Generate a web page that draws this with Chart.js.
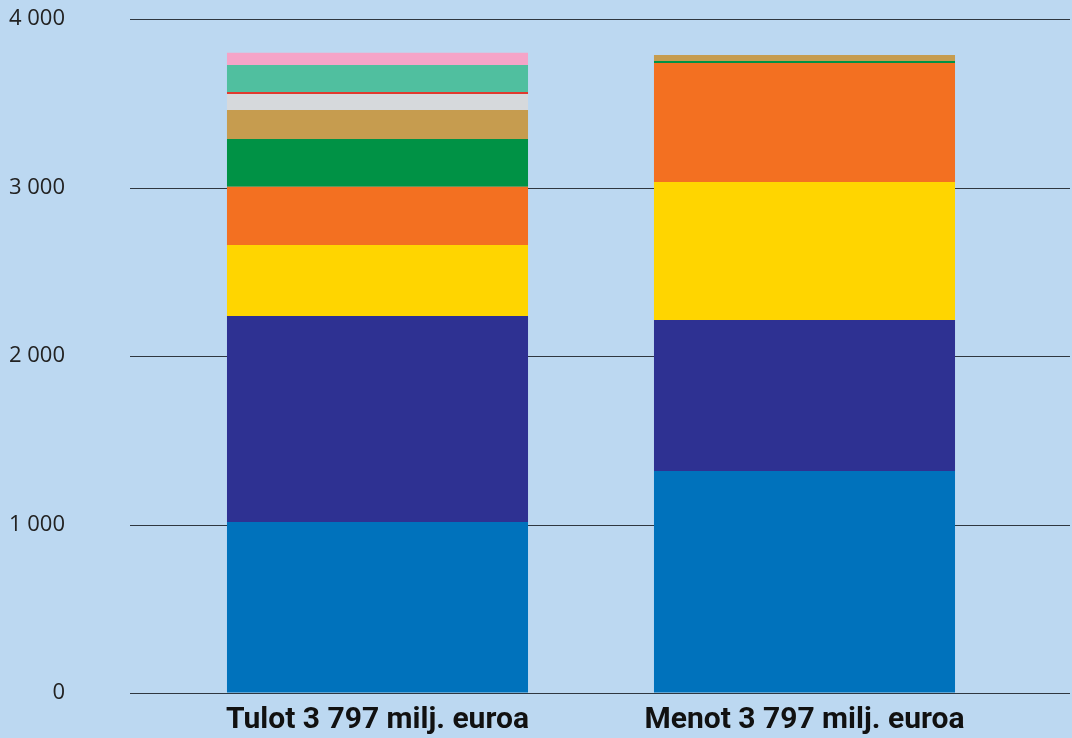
<!DOCTYPE html>
<html>
<head>
<meta charset="utf-8">
<script src="https://cdn.jsdelivr.net/npm/chart.js@4"></script>
<style>
html,body{margin:0;padding:0;background:#BCD8F1;}
#wrap{width:1072px;height:738px;position:relative;}
</style>
</head>
<body>
<div id="wrap"><canvas id="c" width="1072" height="738"></canvas></div>
<script>
const categories = ['Tulot 3 797 milj. euroa', 'Menot 3 797 milj. euroa'];
const yTickLabels = {0:'0',1000:'1 000',2000:'2 000',3000:'3 000',4000:'4 000'};
// series, bottom to top: [Tulot, Menot]
const seriesBlue   = [1015, 1318];
const seriesNavy   = [1222, 896];
const seriesYellow = [422, 819];
const seriesOrange = [346, 706];
const seriesGreen  = [283, 12];
const seriesTan    = [172, 36];
const seriesGray   = [95, 0];
const seriesRed    = [12, 0];
const seriesTeal   = [160, 0];
const seriesPink   = [72, 0];

const series = [
  [seriesBlue, '#0072BC'],
  [seriesNavy, '#2E3192'],
  [seriesYellow, '#FFD500'],
  [seriesOrange, '#F37021'],
  [seriesGreen, '#009245'],
  [seriesTan, '#C69C4F'],
  [seriesGray, '#D6D9DC'],
  [seriesRed, '#E03A2E'],
  [seriesTeal, '#50BF9F'],
  [seriesPink, '#F5A4C8'],
];

const gridPlugin = {
  id: 'extGrid',
  beforeDatasetsDraw(chart) {
    const ctx = chart.ctx;
    const y = chart.scales.y;
    ctx.save();
    ctx.strokeStyle = '#2f3740';
    ctx.lineWidth = 1.2;
    y.ticks.forEach(t => {
      const py = Math.round(y.getPixelForValue(t.value)) + 0.5;
      ctx.beginPath();
      ctx.moveTo(130, py);
      ctx.lineTo(1070, py);
      ctx.stroke();
    });
    ctx.restore();
  }
};

new Chart(document.getElementById('c'), {
  type: 'bar',
  data: {
    labels: categories,
    datasets: series.map(([d, c]) => ({
      data: d, backgroundColor: c, borderWidth: 0,
      barPercentage: 0.705, categoryPercentage: 1
    }))
  },
  options: {
    responsive: false,
    animation: false,
    layout: { padding: { top: 19, right: 54, left: 0, bottom: 0 } },
    plugins: { legend: { display: false }, tooltip: { enabled: false } },
    scales: {
      x: {
        stacked: true,
        grid: { display: false, drawTicks: false },
        border: { display: false },
        afterFit(s) { s.height = 45; },
        ticks: {
          color: '#111',
          font: { family: 'Roboto', size: 30, weight: 'bold' },
          padding: 9
        }
      },
      y: {
        stacked: true,
        min: 0, max: 4000,
        afterFit(s) { s.width = 164; },
        grid: { display: true, color: 'rgba(0,0,0,0)', drawOnChartArea: false, drawTicks: true, tickLength: 94 },
        border: { display: false },
        ticks: {
          stepSize: 1000,
          padding: 5,
          color: '#222',
          font: { family: 'Open Sans', size: 22 },
          callback: v => yTickLabels[v]
        }
      }
    }
  },
  plugins: [gridPlugin]
});
</script>
</body>
</html>
